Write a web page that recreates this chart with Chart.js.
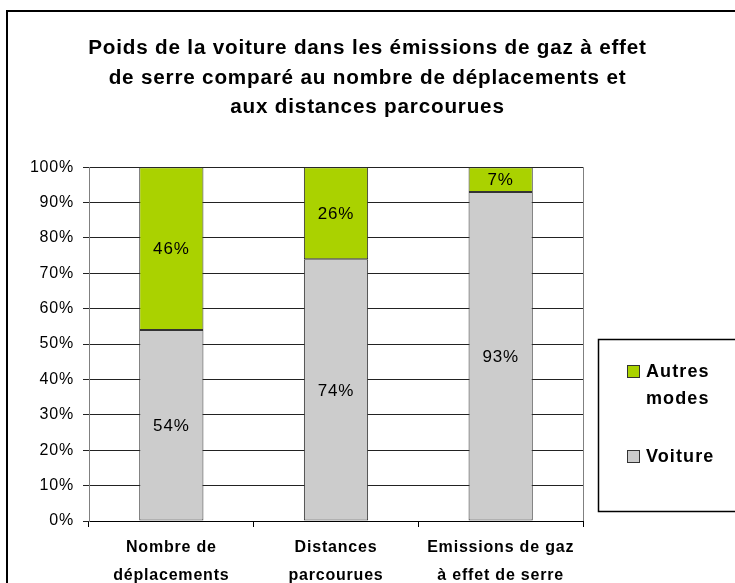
<!DOCTYPE html>
<html>
<head>
<meta charset="utf-8">
<script src="https://cdn.jsdelivr.net/npm/chart.js@4/dist/chart.umd.min.js"></script>
<style>
  html, body { margin: 0; padding: 0; background: #fff; }
  canvas { display: block; }
</style>
</head>
<body>
<canvas id="myChart" width="735" height="583"></canvas>
<script>
// data
const categories = [['Nombre de', 'déplacements'], ['Distances', 'parcourues'], ['Emissions de gaz', 'à effet de serre']];
const voiture = [54, 74, 93];
const autresModes = [46, 26, 7];
const yTicks = [0, 10, 20, 30, 40, 50, 60, 70, 80, 90, 100];
const titleLines = [
    'Poids de la voiture dans les émissions de gaz à effet',
    'de serre comparé au nombre de déplacements et',
    'aux distances parcourues'
];

const GREEN = '#AAD200';
const GREY = '#CCCCCC';
const FONT = 'Arial, "Liberation Sans", sans-serif';

// excel text is a little wider than the canvas draws it
const spacing = {
    id: 'spacing',
    beforeLayout(chart) { chart.ctx.letterSpacing = '0.8px'; },
    beforeDraw(chart) { chart.ctx.letterSpacing = '0.8px'; }
};

// outer frame, right plot border
const frame = {
    id: 'frame',
    beforeDatasetsDraw(chart) {
        const {ctx, chartArea} = chart;
        ctx.save();
        ctx.strokeStyle = '#808080';
        ctx.lineWidth = 1;
        ctx.beginPath();
        ctx.moveTo(Math.round(chartArea.right) + 0.5, chartArea.top);
        ctx.lineTo(Math.round(chartArea.right) + 0.5, chartArea.bottom);
        ctx.stroke();
        ctx.restore();
    },
    afterDraw(chart) {
        const ctx = chart.ctx;
        ctx.save();
        ctx.strokeStyle = '#000';
        ctx.lineWidth = 2;
        ctx.strokeRect(7, 11, 740, 600);
        ctx.restore();
    }
};

// values written in the middle of each segment
const valueLabels = {
    id: 'valueLabels',
    afterDatasetsDraw(chart) {
        const ctx = chart.ctx;
        ctx.save();
        ctx.font = '17px ' + FONT;
        ctx.fillStyle = '#000';
        ctx.textAlign = 'center';
        ctx.textBaseline = 'middle';
        chart.data.datasets.forEach((ds, i) => {
            chart.getDatasetMeta(i).data.forEach((bar, j) => {
                const p = bar.getCenterPoint();
                ctx.fillText(ds.data[j] + '%', p.x, p.y + 1);
            });
        });
        ctx.restore();
    }
};

// boxed legend on the right, "Autres modes" on two lines
const boxLegend = {
    id: 'boxLegend',
    afterDraw(chart) {
        const ctx = chart.ctx;
        const x = 598, y = 339;
        ctx.save();
        ctx.strokeStyle = '#000';
        ctx.lineWidth = 1.5;
        ctx.strokeRect(x + 0.5, y + 0.5, 150, 172);
        const items = [
            {lines: ['Autres', 'modes'], color: GREEN, top: 26},
            {lines: ['Voiture'], color: GREY, top: 111}
        ];
        ctx.font = 'bold 18px ' + FONT;
        ctx.letterSpacing = '1.1px';
        ctx.textBaseline = 'middle';
        ctx.textAlign = 'left';
        items.forEach(it => {
            ctx.fillStyle = it.color;
            ctx.fillRect(x + 29, y + it.top, 12, 12);
            ctx.strokeStyle = '#333';
            ctx.lineWidth = 1;
            ctx.strokeRect(x + 29.5, y + it.top + 0.5, 12, 12);
            ctx.fillStyle = '#000';
            it.lines.forEach((t, k) => {
                ctx.fillText(t, x + 48, y + it.top + 7 + k * 27);
            });
        });
        ctx.restore();
    }
};

new Chart(document.getElementById('myChart'), {
    type: 'bar',
    data: {
        labels: categories,
        datasets: [{
            label: 'Voiture',
            data: voiture,
            backgroundColor: GREY,
            borderColor: '#333',
            borderWidth: 1,
            borderSkipped: false,
            barPercentage: 0.39,
            categoryPercentage: 1
        }, {
            label: 'Autres modes',
            data: autresModes,
            backgroundColor: GREEN,
            borderColor: '#333',
            borderWidth: 1,
            borderSkipped: false,
            barPercentage: 0.39,
            categoryPercentage: 1
        }]
    },
    options: {
        responsive: false,
        animation: false,
        devicePixelRatio: 1,
        layout: {padding: 0},
        plugins: {
            legend: {display: false},
            tooltip: {enabled: false},
            title: {
                display: true,
                text: titleLines,
                color: '#000',
                font: {family: FONT, size: 20.7, weight: 'bold', lineHeight: 1.42},
                padding: {top: 34, bottom: 45}
            }
        },
        scales: {
            x: {
                stacked: true,
                offset: true,
                grid: {display: true, offset: true, drawOnChartArea: false, drawTicks: true, tickLength: 6, color: '#000'},
                border: {display: true, color: '#000'},
                ticks: {color: '#000', padding: 7, font: {family: FONT, size: 16, weight: 'bold', lineHeight: 1.75}},
                afterFit(scale) { scale.height = 62; }
            },
            y: {
                stacked: true,
                min: 0,
                max: 100,
                afterBuildTicks(scale) { scale.ticks = yTicks.map(v => ({value: v})); },
                grid: {color: '#222', tickLength: 6, drawTicks: true},
                border: {display: true, color: '#808080'},
                ticks: {
                    color: '#000',
                    padding: 9,
                    font: {family: FONT, size: 16},
                    callback: v => v + '%'
                },
                afterFit(scale) { scale.width = 89; }
            },
            // empty axis that keeps the room for the legend box on the right
            room: {
                position: 'right',
                display: true,
                grid: {display: false},
                border: {display: false},
                ticks: {display: false},
                afterFit(scale) { scale.width = 152; }
            }
        }
    },
    plugins: [spacing, frame, valueLabels, boxLegend]
});
</script>
</body>
</html>
